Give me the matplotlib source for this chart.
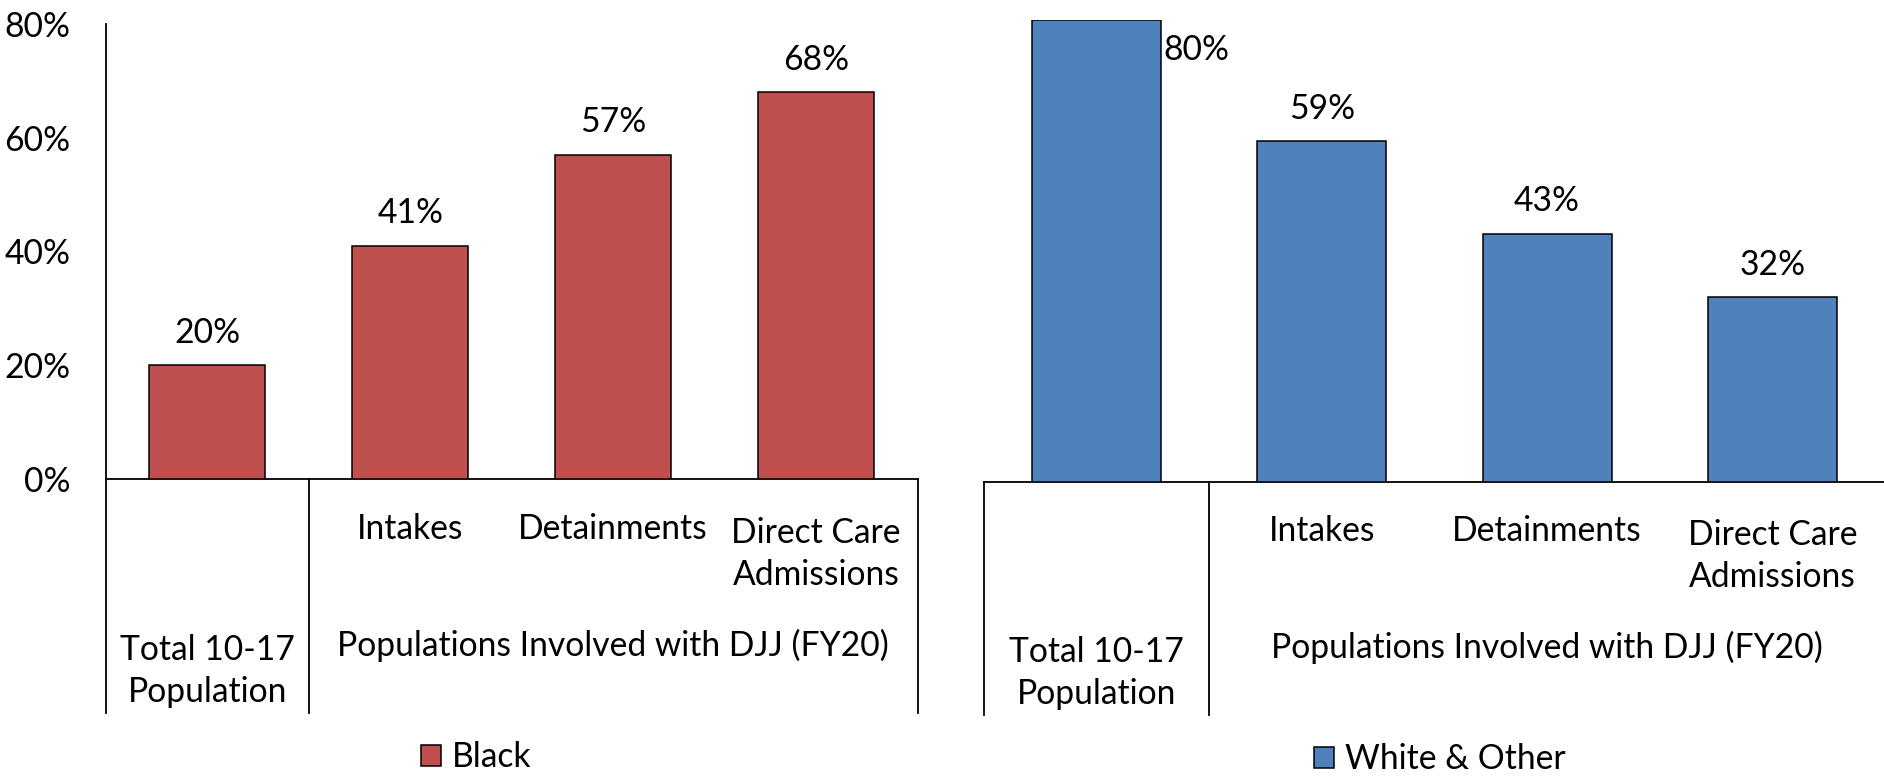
import matplotlib
matplotlib.use("Agg")
import matplotlib.pyplot as plt
from matplotlib.transforms import blended_transform_factory
from matplotlib.patches import Patch

# ---- data ----
level1_labels = ["", "Intakes", "Detainments", "Direct Care\nAdmissions"]
level2_labels = ["Total 10-17\nPopulation", "Populations Involved with DJJ (FY20)"]
level2_spans = [(0, 0), (1, 3)]          # category index ranges of each group
black_values = [20, 41, 57, 68]
white_values = [80, 59, 43, 32]
series_names = ["Black", "White & Other"]
yticks = [0, 20, 40, 60, 80]
ytick_labels = ["0%", "20%", "40%", "60%", "80%"]

# ---- style ----
W, H = 1884, 779
FONT = "Lato"
FS = 24.2
LINE_PX = 45.7
LS = 1.38
RED = "#C0504D"
BLUE = "#4F81BD"
plt.rcParams["font.family"] = [FONT, "DejaVu Sans"]
plt.rcParams["font.size"] = FS

fig = plt.figure(figsize=(W / 100, H / 100), dpi=100)


def fy(py):
    return 1 - py / H


def make_panel(rect_px, values, color, name, show_y, zero_py, bottom_py,
               l1_base_py, l2_base_py, legend_px, first_label_side=False):
    x0, x1, ytop, yzero = rect_px
    ax = fig.add_axes([x0 / W, fy(yzero), (x1 - x0) / W, (yzero - ytop) / H])
    xs = list(range(len(values)))
    bars = ax.bar(xs, values, width=0.573, color=color, edgecolor="black",
                  linewidth=1.1, zorder=3)
    ax.set_xlim(-0.5, len(values) - 0.5)
    ax.set_ylim(0, 80)
    ax.set_xticks([])
    for s in ["top", "right"]:
        ax.spines[s].set_visible(False)
    ax.spines["bottom"].set_linewidth(1.3)
    ax.spines["left"].set_linewidth(1.3)
    if show_y:
        ax.set_yticks(yticks)
        ax.set_yticklabels(ytick_labels)
        ax.tick_params(axis="y", length=0, pad=25.5)
    else:
        ax.spines["left"].set_visible(False)
        ax.set_yticks([])

    # data labels
    for i, (b, v) in enumerate(zip(bars, values)):
        if first_label_side and i == 0:
            ax.annotate(f"{v}%", (b.get_x() + b.get_width(), v),
                        xytext=(1.5, -21.5), textcoords="offset points",
                        ha="left", va="center", fontsize=FS)
        else:
            ax.annotate(f"{v}%", (b.get_x() + b.get_width() / 2, v),
                        xytext=(0, 23.4), textcoords="offset points",
                        ha="center", va="center", fontsize=FS)

    # multi-level category axis
    tr = blended_transform_factory(ax.transData, fig.transFigure)
    dividers = [-0.5] + [s[1] + 0.5 for s in level2_spans]
    for d in dividers:
        ax.plot([d, d], [fy(zero_py), fy(bottom_py)], transform=tr,
                color="black", lw=1.3, clip_on=False, zorder=5)

    def cat_text(x, base_py, lab):
        extra = lab.count("\n") * LINE_PX   # baseline alignment uses last line
        ax.text(x, fy(base_py + extra), lab, transform=tr, ha="center",
                va="baseline", linespacing=LS, fontsize=FS)

    for i, lab in enumerate(level1_labels):
        if lab:
            cat_text(i, l1_base_py, lab)
    for lab, (a, b) in zip(level2_labels, level2_spans):
        cat_text((a + b) / 2, l2_base_py, lab)

    # legend
    h = Patch(facecolor=color, edgecolor="black", linewidth=1.1)
    fig.legend([h], [name], loc="center left",
               bbox_to_anchor=(legend_px[0] / W, fy(legend_px[1])),
               frameon=False, borderpad=0, borderaxespad=0,
               handlelength=0.6, handleheight=0.58, handletextpad=0.32,
               fontsize=FS)
    return ax


make_panel((105.7, 917.7, 24, 479), black_values, RED, series_names[0], True,
           479, 712.7, 539.3, 656, (421, 757))
make_panel((984, 1885, 20, 481.7), white_values, BLUE, series_names[1], False,
           481.7, 715, 541, 658.3, (1314, 759), first_label_side=True)

fig.savefig("out.png", dpi=100)
